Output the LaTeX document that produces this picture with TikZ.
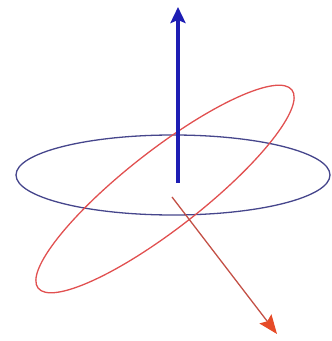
\documentclass[tikz,border=0pt]{standalone}
\usetikzlibrary{arrows.meta}
\definecolor{ringblue}{RGB}{70,70,140}
\definecolor{arrowblue}{RGB}{30,30,180}
\definecolor{ringred}{RGB}{225,80,80}
\definecolor{arrowredline}{RGB}{195,80,70}
\definecolor{arrowredhead}{RGB}{230,75,40}
\tikzset{
  ring/.style={line width=1.3pt},
  bluearrow/.style={arrowblue, line width=3.6pt, -{Stealth[length=16pt,width=15pt,inset=3pt]}},
  redarrow/.style={arrowredline, line width=1.3pt, -{Stealth[length=19pt,width=15pt,inset=3pt,color=arrowredhead]}}
}
\begin{document}
\begin{tikzpicture}[x=1pt,y=1pt]
\useasboundingbox (0,0) rectangle (332,341);
\draw[ring, ringblue] (173,166) ellipse [x radius=157, y radius=40];
\draw[ring, ringred, rotate around={38:(165,152)}] (165,152) ellipse [x radius=161, y radius=39];
\coordinate (bstart) at (178,158);
\coordinate (btip) at (178,334);
\coordinate (rstart) at (172,144);
\coordinate (rtip) at (277,7);
\draw[bluearrow] (bstart) -- (btip);
\draw[redarrow] (rstart) -- (rtip);
\end{tikzpicture}
\end{document}
